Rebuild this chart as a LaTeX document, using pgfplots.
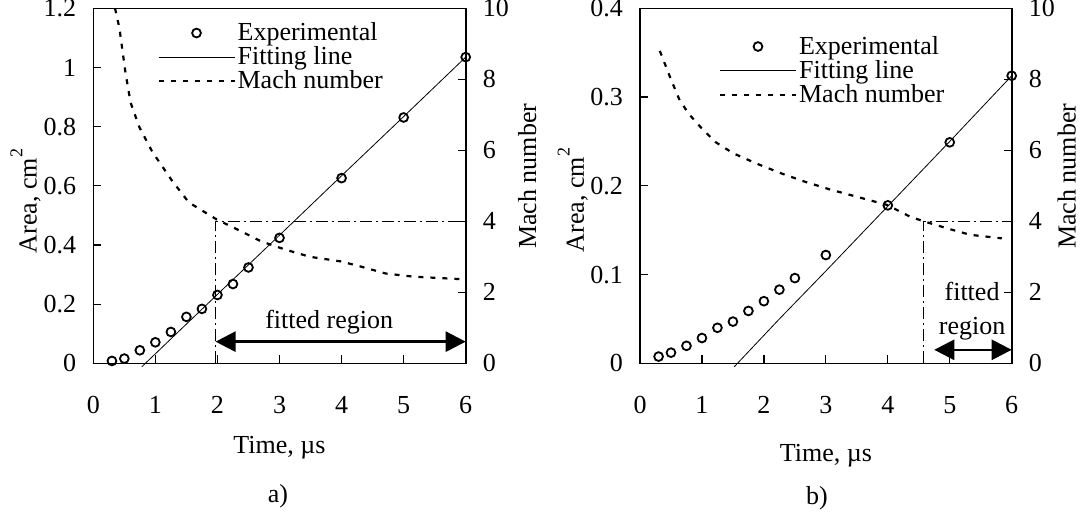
\documentclass[border=0pt]{standalone}
\usepackage{fontspec}
\setmainfont{Liberation Serif}
\usepackage{pgfplots}
\pgfplotsset{compat=1.18}
\usetikzlibrary{arrows.meta}

\pgfplotsset{
  base/.style={
    scale only axis, width=186.2pt, height=177.5pt,
    xmin=0, xmax=6,
    tick align=inside,
    font=\fontsize{13}{15}\selectfont,
    /pgf/number format/assume math mode=true,
    axis line style={line width=0.8pt},
    every tick/.style={black, line width=0.6pt},
    major tick length=4pt,
    anchor=south west,
  },
  leftax/.style={
    base, clip=false,
    xtick={0,1,2,3,4,5,6}, xtick pos=bottom,
    ytick pos=left,
    xticklabel style={yshift=-13pt},
    yticklabel style={xshift=-5pt, /pgf/number format/fixed},
    xlabel={Time, µs},
    ylabel={Area, cm\raisebox{1.2ex}{\fontsize{9}{9}\selectfont 2}},
  },
  rightax/.style={
    base,
    axis x line=none, axis y line*=right,
    ymin=0, ymax=10, ytick={0,2,4,6,8,10},
    yticklabel style={xshift=5pt},
    ylabel={Mach number},
    legend cell align=left,
    legend style={draw=none, fill=none, font=\fontsize{13}{13}\selectfont,
      row sep=-0.5pt, nodes={inner sep=1pt}},
    legend image code/.code={\draw[mark repeat=2,mark phase=2,##1] plot coordinates {(0pt,0pt) (19pt,0pt) (38pt,0pt)};},
  },
  expst/.style={only marks, mark=o, mark size=2.2pt, mark options={line width=0.9pt}, black},
  fitst/.style={black, line width=0.4pt},
  machst/.style={black, line width=1.1pt, dash pattern=on 2.5pt off 3.5pt},
  ddst/.style={black, line width=0.6pt, dash pattern=on 6pt off 2pt on 1pt off 2pt},
  arrst/.style={black, line width=1.3pt, {Triangle[length=10pt,width=10pt]}-{Triangle[length=10pt,width=10pt]}},
}

\begin{document}
\begin{tikzpicture}
\useasboundingbox (0,0) rectangle (540pt,263.5pt);

% ---------- panel a ----------
\begin{axis}[leftax, at={(46.65pt,81.85pt)},
  ymin=0, ymax=1.2, ytick={0,0.2,0.4,0.6,0.8,1,1.2},
  xlabel style={at={(axis description cs:0.5,0)}, anchor=center, yshift=-42pt},
  ylabel style={at={(axis description cs:-0.182,0.457)}, anchor=center},
]
\addplot[expst] coordinates {(0.3,0.008)(0.5,0.016)(0.75,0.044)(1,0.071)(1.25,0.106)(1.5,0.157)(1.75,0.184)(2,0.231)(2.25,0.268)(2.5,0.324)(3,0.424)(4,0.626)(5,0.831)(6,1.035)};
\addplot[fitst] coordinates {(0.78,-0.012)(2,0.233)(3,0.433)(4,0.634)(5,0.834)(6,1.035)};
\end{axis}
\begin{axis}[rightax, at={(46.65pt,81.85pt)},
  ylabel style={at={(axis description cs:1.165,0.527)}, anchor=center},
  legend style={at={(axis description cs:0.155,0.978)}, anchor=north west},
]
\addlegendimage{expst}
\addlegendentry{Experimental}
\addlegendimage{fitst}
\addlegendentry{Fitting line}
\addplot[machst] coordinates {(0.35,10)(0.42,9.45)(0.52,8.17)(0.6,7.35)(0.74,6.66)(0.95,5.96)(1.27,5.14)(1.54,4.53)(1.99,4.05)(2.38,3.72)(2.71,3.43)(3.1,3.2)(3.49,3.0)(3.99,2.87)(4.32,2.72)(4.71,2.53)(5.16,2.44)(5.93,2.37)};
\addlegendentry{Mach number}
\addplot[ddst, forget plot] coordinates {(1.97,0)(1.97,4)(6,4)};
\addplot[arrst, forget plot] coordinates {(1.97,0.61)(6,0.61)};
\node[font=\fontsize{13}{13}\selectfont] at (axis cs:3.8,1.16) {fitted region};
\end{axis}

% ---------- panel b ----------
\begin{axis}[leftax, at={(320pt,81.85pt)}, width=185.85pt,
  ymin=0, ymax=0.4, ytick={0,0.1,0.2,0.3,0.4},
  xlabel style={at={(axis description cs:0.5,0)}, anchor=center, yshift=-46pt},
  ylabel style={at={(axis description cs:-0.181,0.46)}, anchor=center},
]
\addplot[expst] coordinates {(0.3,0.0076)(0.5,0.012)(0.75,0.0197)(1,0.0285)(1.25,0.040)(1.5,0.047)(1.75,0.059)(2,0.070)(2.25,0.083)(2.5,0.096)(3,0.122)(4,0.178)(5,0.249)(6,0.324)};
\addplot[fitst] coordinates {(1.52,-0.004)(2.25,0.050)(3,0.104)(4,0.177)(5,0.250)(6,0.324)};
\end{axis}
\begin{axis}[rightax, at={(320pt,81.85pt)}, width=185.85pt,
  ylabel style={at={(axis description cs:1.148,0.527)}, anchor=center},
  legend style={at={(axis description cs:0.195,0.94)}, anchor=north west},
]
\addlegendimage{expst}
\addlegendentry{Experimental}
\addlegendimage{fitst}
\addlegendentry{Fitting line}
\addplot[machst] coordinates {(0.32,8.8)(0.49,8.04)(0.63,7.45)(0.78,7.04)(1,6.61)(1.22,6.23)(1.5,5.92)(1.89,5.62)(2.28,5.35)(2.67,5.11)(3.06,4.9)(3.44,4.72)(3.99,4.46)(4.36,4.13)(4.58,4.0)(5,3.78)(5.33,3.62)(5.84,3.52)};
\addlegendentry{Mach number}
\addplot[ddst, forget plot] coordinates {(4.58,0)(4.58,4)(6,4)};
\addplot[arrst, forget plot] coordinates {(4.75,0.38)(6,0.38)};
\node[font=\fontsize{13}{17}\selectfont, align=center] at (axis cs:5.36,1.46) {fitted\\region};
\end{axis}

\node[font=\fontsize{13}{15}\selectfont] at (139pt,15.15pt) {a)};
\node[font=\fontsize{13}{15}\selectfont] at (408.5pt,14.5pt) {b)};
\end{tikzpicture}
\end{document}
